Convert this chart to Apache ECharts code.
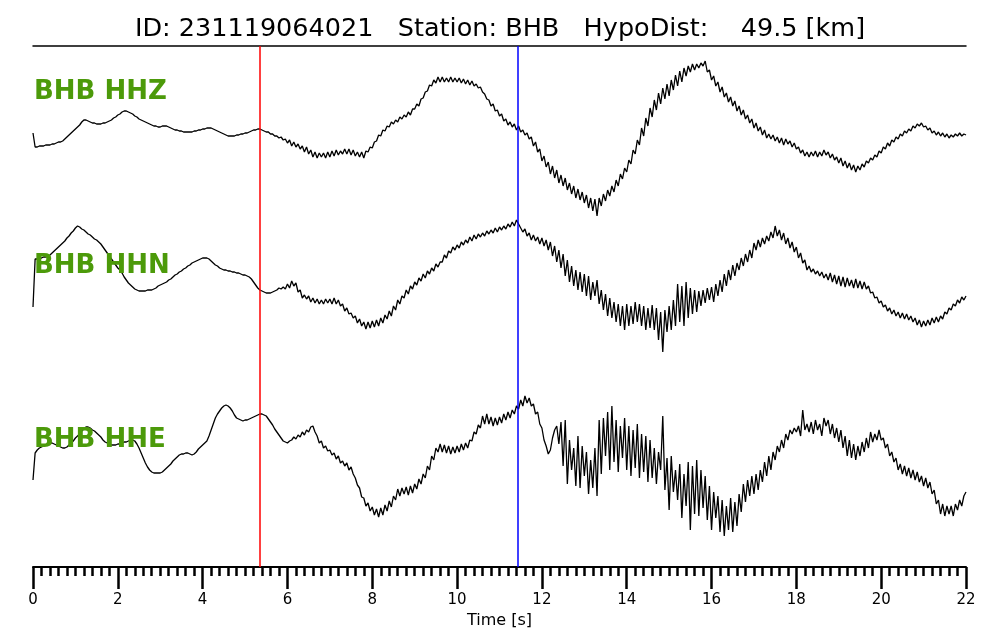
<!DOCTYPE html>
<html>
<head>
<meta charset="utf-8">
<script src="https://cdn.jsdelivr.net/npm/echarts@6/dist/echarts.min.js"></script>
<style>
html,body{margin:0;padding:0;background:#fff;}
#chart{width:1000px;height:640px;}
</style>
</head>
<body>
<div id="chart"></div>
<script>
// Sampling interval of the traces (s)
const DT = 0.05;
// Trace values (display units, axis drawn top-down), one sample every DT seconds from 0 to 22 s
const hhz = [
133,147,147,146,146,146,145,145,145,144,144,143,142,142,141,139,137,135,133,131,
129,127,125,122,120,120,121,122,123,123,124,124,124,123,123,122,121,120,118,117,
115,114,112,111,111,112,113,114,116,117,119,120,121,122,123,124,125,126,126,127,
127,126,126,126,127,128,129,130,130,131,131,132,132,132,132,132,131,131,130,130,
129,129,128,128,128,129,130,131,132,133,134,135,136,136,136,136,135,135,134,134,
133,133,132,131,130,130,129,129,130,131,132,132,134,134,136,136,138,137,140,139,
143,140,146,142,147,144,149,146,152,147,154,150,157,152,158,153,157,153,158,152,
157,151,156,150,155,151,154,149,154,149,155,150,156,152,157,152,158,151,152,147,
148,142,141,135,136,130,131,126,127,122,124,120,122,117,119,115,117,112,115,109,
109,104,106,99,98,92,91,85,86,80,83,77,82,77,82,78,82,77,82,78,
82,78,83,79,84,80,85,81,86,84,88,87,92,94,99,100,106,104,111,110,
116,114,121,119,125,122,127,124,130,126,132,130,135,133,139,137,146,142,152,149,
161,156,167,162,174,166,178,170,183,175,186,178,190,183,194,186,198,189,200,192,
203,195,208,198,211,199,216,198,206,194,201,190,196,186,192,180,186,174,179,168,
172,160,164,150,154,140,145,128,136,118,126,108,117,100,110,93,104,88,99,84,
96,80,90,75,86,71,82,68,76,66,72,64,70,64,68,63,66,61,72,70,
80,76,86,82,92,87,97,93,102,97,106,101,111,106,115,110,119,115,123,119,
128,123,131,127,135,130,138,134,139,135,141,137,143,138,145,139,144,141,147,143,
149,147,153,150,156,152,157,152,156,151,157,152,156,150,155,152,158,154,160,157,
163,158,166,161,168,163,170,165,172,166,170,164,167,161,163,158,160,155,157,151,
153,147,149,143,146,140,142,137,139,134,136,131,133,129,131,126,128,124,126,123,
127,126,130,128,133,131,135,132,136,133,137,134,138,135,137,134,136,133,136,134,135
];
const hhn = [
307,259,259,258,258,257,257,256,255,253,251,249,247,245,243,241,238,236,233,231,
228,226,227,229,230,232,234,235,237,239,240,242,244,247,250,253,256,259,262,265,
268,270,273,277,280,283,285,287,289,290,291,291,291,291,290,290,290,289,288,286,
285,284,283,282,280,279,277,275,274,272,271,269,268,266,265,263,262,261,260,259,
258,258,258,259,261,263,265,266,268,269,270,270,271,271,272,272,273,273,274,275,
275,276,277,279,282,285,288,290,291,292,293,293,293,292,291,290,288,289,287,289,
284,288,281,286,283,292,290,298,295,299,296,302,298,303,299,304,300,304,299,303,
299,304,298,304,300,306,304,311,308,314,313,318,316,323,319,326,322,329,322,328,
321,327,320,326,318,323,315,319,311,316,306,310,300,304,296,298,290,294,286,289,
282,285,278,281,274,278,271,274,268,271,264,267,262,262,255,258,251,253,247,250,
245,248,242,245,240,243,237,241,235,239,234,237,233,236,231,234,230,233,228,232,
227,230,226,229,224,227,222,226,220,224,228,232,229,236,233,240,235,241,237,244,
238,246,240,250,242,256,246,262,250,268,254,276,260,282,266,286,270,290,272,292,
274,296,276,300,282,296,280,304,290,310,294,316,298,318,302,322,304,326,306,330,
304,326,306,324,302,322,304,326,306,330,308,328,305,330,308,340,312,352,310,332,
306,330,300,326,284,322,286,326,282,318,288,314,290,312,291,306,290,303,288,300,
287,302,284,296,280,292,274,286,270,280,265,276,263,270,258,266,254,262,250,258,
243,250,240,247,238,244,236,241,232,238,226,236,230,240,233,244,238,248,242,252,
247,258,253,263,260,270,266,272,269,274,271,276,272,278,274,280,273,282,275,284,
276,286,277,287,278,286,280,288,279,288,281,289,282,289,286,293,292,298,297,303,
301,307,305,311,308,314,310,316,312,318,313,319,314,320,316,322,318,325,320,327,
321,326,320,325,318,323,317,322,316,319,312,314,308,310,304,306,300,303,297,300,296
];
const hhe = [
480,453,450,448,447,446,445,444,443,443,444,445,446,447,448,448,447,445,443,441,
438,436,434,431,429,427,427,428,430,431,433,435,437,440,442,443,444,445,445,445,
444,444,443,442,442,441,440,440,441,444,448,453,458,463,467,470,472,473,473,473,
473,472,470,468,466,464,461,459,457,455,454,454,453,453,454,455,454,452,449,447,
445,443,441,436,430,424,418,414,411,408,406,405,406,408,411,415,418,419,420,421,
420,420,419,418,417,416,415,414,414,415,416,419,422,425,429,432,435,438,441,442,
443,441,440,437,439,435,437,432,435,430,432,427,426,432,436,443,441,448,446,451,
450,455,453,459,456,463,461,466,463,470,467,474,478,485,488,497,498,506,503,511,
507,515,509,517,508,515,505,511,501,507,496,500,489,496,488,494,487,495,486,493,
484,489,479,484,474,478,466,470,456,460,448,452,444,452,445,453,446,454,447,453,
446,452,444,450,443,448,440,441,432,434,425,428,416,424,414,424,417,426,418,425,
417,423,414,420,412,418,410,414,406,409,400,406,396,403,398,406,404,414,412,424,
428,440,446,454,450,438,430,426,444,422,466,420,484,440,470,448,486,436,488,446,
476,452,494,460,488,448,496,420,474,418,456,412,470,406,462,420,472,426,458,418,
470,426,476,430,468,424,478,434,472,436,482,440,478,448,484,452,470,416,490,458,
510,456,492,470,500,464,518,474,506,462,530,466,514,460,516,470,508,476,520,486,
530,492,518,496,532,500,536,506,530,498,532,502,526,494,512,484,502,480,496,476,
494,474,490,470,482,462,476,456,470,452,460,446,452,440,448,434,440,430,434,428,
432,426,436,410,430,424,432,422,434,420,430,424,436,418,426,420,434,424,438,428,
442,430,448,436,456,440,458,444,460,446,456,442,452,438,448,432,442,434,440,430,
440,438,448,444,456,452,462,458,470,464,474,466,476,468,478,470,480,472,482,476,
486,478,488,482,494,490,504,500,514,504,516,506,514,506,516,504,510,500,506,496,492
];
// Station / channel names
const channels = ['BHB HHZ', 'BHB HHN', 'BHB HHE'];
// Phase pick times (s)
const pPick = 5.35;
const sPick = 11.44;
// Tick labels / axis range
const timeMin = 0, timeMax = 22, timeInterval = 2;
const titleText = 'ID: 231119064021   Station: BHB   HypoDist:    49.5 [km]';
const xName = 'Time [s]';

const toPairs = arr => arr.map((v, i) => [Math.round(i * DT * 100) / 100, v]);

const chart = echarts.init(document.getElementById('chart'), null, {renderer: 'canvas'});
const FONT = 'DejaVu Sans';
const GREEN = '#4c9a0a';

const traceSeries = [hhz, hhn, hhe].map((arr, k) => ({
  name: channels[k],
  type: 'line',
  data: toPairs(arr),
  showSymbol: false,
  symbol: 'none',
  lineStyle: {color: '#000', width: 1.3},
  z: 2,
  animation: false
}));

const option = {
  animation: false,
  backgroundColor: '#fff',
  title: {
    text: titleText,
    left: 'center',
    top: 11,
    textStyle: {fontFamily: FONT, fontSize: 25.5, fontWeight: 'normal', color: '#000'}
  },
  grid: {left: 33, right: 34, top: 46, bottom: 73, containLabel: false},
  xAxis: [{
    type: 'value',
    min: timeMin,
    max: timeMax,
    interval: timeInterval,
    position: 'bottom',
    name: xName,
    nameLocation: 'middle',
    nameGap: 42,
    nameTextStyle: {fontFamily: FONT, fontSize: 16, color: '#000'},
    axisLine: {show: true, lineStyle: {color: '#000', width: 2}},
    axisTick: {show: true, length: 22, lineStyle: {color: '#000', width: 2.5}},
    minorTick: {show: true, splitNumber: 10, length: 9, lineStyle: {color: '#000', width: 2.5}},
    axisLabel: {fontFamily: FONT, fontSize: 15, color: '#000', margin: 26},
    splitLine: {show: false}
  }, {
    type: 'value',
    min: timeMin,
    max: timeMax,
    position: 'top',
    axisLine: {show: true, lineStyle: {color: '#000', width: 1.5}},
    axisTick: {show: false},
    axisLabel: {show: false},
    splitLine: {show: false}
  }],
  yAxis: {
    type: 'value',
    inverse: true,
    min: 46,
    max: 567,
    show: false
  },
  series: traceSeries.concat([{
    type: 'line',
    data: [],
    z: 5,
    markLine: {
      silent: true,
      symbol: ['none', 'none'],
      label: {show: false},
      animation: false,
      data: [
        {xAxis: pPick, lineStyle: {color: '#ff0000', width: 1.5, type: 'solid'}},
        {xAxis: sPick, lineStyle: {color: '#0000ff', width: 1.5, type: 'solid'}}
      ]
    }
  }]),
  graphic: [
    {type: 'text', left: 34, top: 79, z: 10, style: {text: channels[0], font: 'bold 26px "DejaVu Sans"', fill: GREEN}},
    {type: 'text', left: 34, top: 253, z: 10, style: {text: channels[1], font: 'bold 26px "DejaVu Sans"', fill: GREEN}},
    {type: 'text', left: 34, top: 427, z: 10, style: {text: channels[2], font: 'bold 26px "DejaVu Sans"', fill: GREEN}}
  ]
};
chart.setOption(option);
</script>
</body>
</html>
